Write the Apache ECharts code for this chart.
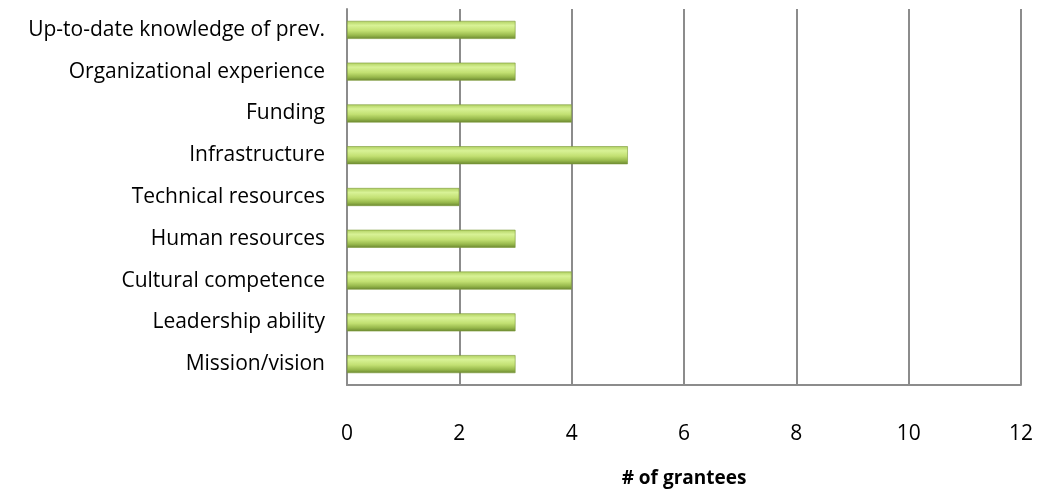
<!DOCTYPE html>
<html>
<head>
<meta charset="utf-8">
<script src="https://cdn.jsdelivr.net/npm/echarts@6/dist/echarts.min.js"></script>
<style>
html,body{margin:0;padding:0;background:#fff;}
#chart{width:1043px;height:493px;}
</style>
</head>
<body>
<div id="chart"></div>
<script>
const categories = ["Mission/vision","Leadership ability","Cultural competence","Human resources","Technical resources","Infrastructure","Funding","Organizational experience","Up-to-date knowledge of prev."];
const values = [3,3,4,3,2,5,4,3,3];
const xTicks = [0,2,4,6,8,10,12];
const xTitle = "# of grantees";

const chart = echarts.init(document.getElementById('chart'));
chart.setOption({
  animation:false,
  grid:{left:347,right:22,top:9,bottom:106,containLabel:false},
  xAxis:{
    type:'value',min:xTicks[0],max:xTicks[xTicks.length-1],interval:2,
    name:xTitle,nameLocation:'middle',nameGap:84,
    nameTextStyle:{fontFamily:'Open Sans',fontSize:19,fontWeight:'bold',color:'#000'},
    axisLine:{show:true,lineStyle:{color:'#8c8c8c',width:2}},
    axisTick:{show:false},
    axisLabel:{fontFamily:'Open Sans',fontSize:21,color:'#000',margin:39},
    splitLine:{show:true,lineStyle:{color:'#8c8c8c',width:2}}
  },
  yAxis:{
    type:'category',data:categories,
    axisLine:{show:true,lineStyle:{color:'#8c8c8c',width:2}},
    axisTick:{show:false},
    axisLabel:{fontFamily:'Open Sans',fontSize:21,color:'#000',margin:22}
  },
  series:[{
    type:'bar',data:values,barWidth:18,
    itemStyle:{
      color:{type:'linear',x:0,y:0,x2:0,y2:1,colorStops:[
        {offset:0,color:'#b0d060'},
        {offset:0.25,color:'#d8f296'},
        {offset:0.55,color:'#c2e072'},
        {offset:0.8,color:'#98b94c'},
        {offset:1,color:'#6a8730'}
      ]},
      borderColor:'#7a9838',borderWidth:0.6
    }
  }]
});
</script>
</body>
</html>
